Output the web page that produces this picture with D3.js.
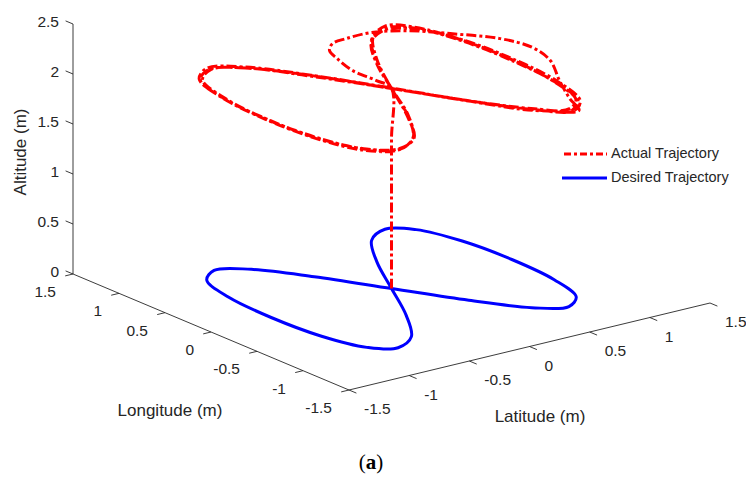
<!DOCTYPE html>
<html>
<head>
<meta charset="utf-8">
<script src="https://cdn.jsdelivr.net/npm/d3@7"></script>
<style>
  body { margin: 0; background: #fff; }
  svg text { font-family: "Liberation Sans", Arial, sans-serif; fill: #262626; }
</style>
</head>
<body>
<svg id="chart" width="746" height="478"></svg>
<script>
// tick values
var latTicks = [-1.5, -1, -0.5, 0, 0.5, 1, 1.5],
    lonTicks = [-1.5, -1, -0.5, 0, 0.5, 1, 1.5],
    altTicks = [0, 0.5, 1, 1.5, 2, 2.5];

// desired figure-eight, flown on the ground plane
var desiredLat = [0, 0.26, 0.5, 0.71, 0.87, 0.97, 1, 0.97, 0.87, 0.71, 0.5, 0.26, 0, -0.26, -0.5, -0.71, -0.87, -0.97, -1, -0.97, -0.87, -0.71, -0.5, -0.26],
    desiredLon = [0, 0.5, 0.87, 1, 0.87, 0.5, 0, -0.5, -0.87, -1, -0.87, -0.5, 0, 0.5, 0.87, 1, 0.87, 0.5, 0, -0.5, -0.87, -1, -0.87, -0.5],
    desiredAlt = [0, 0, 0, 0, 0, 0, 0, 0, 0, 0, 0, 0, 0, 0, 0, 0, 0, 0, 0, 0, 0, 0, 0, 0];

// actual trajectory: climb, first (wide) lap, then steady laps
var climbLat = [0, 0, 0, 0, 0],
    climbLon = [0, 0, 0, 0, 0],
    climbAlt = [0, 0.5, 1, 1.5, 2];

var transLat = [0.02, 0.02, 0.09, 0.15, 0.25, 0.39, 0.60, 0.82, 1.0, 1.2, 1.26, 1.19, 0.99, 0.83, 0.74],
    transLon = [0.19, 0.45, 0.71, 0.87, 0.97, 1.0, 1.0, 0.88, 0.67, 0.39, 0.12, -0.17, -0.53, -0.85, -1.07],
    transAlt = [2, 2, 2, 2, 2, 2, 2, 2, 2, 2, 2, 2, 2, 1.99, 1.98];

var lapALat = [0.50, 0.26, 0.01, -0.27, -0.53, -0.75, -0.91, -1.01, -1.04, -1.0, -0.89, -0.72, -0.51, -0.26, 0, 0.27, 0.52, 0.73, 0.88, 0.98, 1.01, 0.97, 0.86, 0.70],
    lapALon = [-0.9, -0.52, 0, 0.52, 0.9, 1.03, 0.9, 0.52, 0.01, -0.5, -0.88, -1.02, -0.9, -0.52, 0, 0.51, 0.88, 1.02, 0.9, 0.52, 0.02, -0.5, -0.88, -1.02],
    lapAAlt = [2.0, 2.0, 2.0, 2.01, 2.02, 2.02, 2.01, 2.0, 1.99, 1.98, 1.98, 1.99, 2.0, 2.0, 2.0, 2.01, 2.02, 2.02, 2.01, 2.0, 1.99, 1.98, 1.98, 1.99];

var lapBLat = [0.51, 0.27, 0, -0.26, -0.51, -0.73, -0.89, -0.99, -1.02, -0.98, -0.88, -0.71, -0.5, -0.25, 0, 0.25, 0.49, 0.70, 0.86, 0.96, 1.0, 0.98, 0.88, 0.72],
    lapBLon = [-0.9, -0.51, 0, 0.5, 0.88, 1.01, 0.89, 0.51, 0, -0.51, -0.89, -1.03, -0.89, -0.51, 0, 0.49, 0.86, 0.99, 0.87, 0.5, 0, -0.52, -0.9, -1.04],
    lapBAlt = [1.98, 1.99, 2.0, 2.0, 2.01, 2.01, 2.0, 1.99, 1.98, 1.98, 1.99, 2.0, 2.0, 2.0, 2.0, 1.99, 1.99, 2.0, 2.01, 2.02, 2.01, 1.99, 1.97, 1.97];

var lapCLat = [0.49, 0.25, 0, -0.27, -0.52, -0.74, -0.9, -1.0, -1.03, -0.99, -0.88, -0.71, -0.5, -0.26, 0, 0.26, 0.5, 0.71, 0.87, 0.97, 1.0, 0.97, 0.87, 0.71],
    lapCLon = [-0.88, -0.5, 0, 0.51, 0.89, 1.02, 0.9, 0.51, 0, -0.5, -0.88, -1.02, -0.9, -0.51, 0, 0.5, 0.87, 1.0, 0.88, 0.51, 0.01, -0.51, -0.89, -1.03],
    lapCAlt = [1.99, 2.0, 2.0, 2.01, 2.01, 2.01, 2.0, 1.99, 1.99, 1.98, 1.99, 2.0, 2.0, 2.0, 2.0, 2.0, 2.01, 2.01, 2.01, 2.0, 1.99, 1.98, 1.97, 1.97];

var svg = d3.select("#chart"),
    axisColor = "#262626",
    origin = [349, 390]; // lat -1.5, lon -1.5, alt 0

// oblique 3d projection, one scale per screen component
var latX = d3.scaleLinear().domain([-1.5, 1.5]).range([0, 361]),
    latY = d3.scaleLinear().domain([-1.5, 1.5]).range([0, -87]),
    lonX = d3.scaleLinear().domain([-1.5, 1.5]).range([0, -276]),
    lonY = d3.scaleLinear().domain([-1.5, 1.5]).range([0, -116]),
    altY = d3.scaleLinear().domain([0, 2.5]).range([0, -250]);

function proj(la, lo, al) {
  return [origin[0] + latX(la) + lonX(lo), origin[1] + latY(la) + lonY(lo) + altY(al)];
}

function zip(a, b, c) {
  return a.map((d, i) => [d, b[i], c[i]]);
}

var line = d3.line()
    .x(d => proj(d[0], d[1], d[2])[0])
    .y(d => proj(d[0], d[1], d[2])[1]);

// axes
var axes = svg.append("g").attr("stroke", axisColor).attr("stroke-width", 0.9).attr("fill", "none");

function seg(a, b) {
  axes.append("line").attr("x1", a[0]).attr("y1", a[1]).attr("x2", b[0]).attr("y2", b[1]);
}

seg(proj(-1.5, 1.5, 0), proj(-1.5, 1.5, 2.5));
seg(proj(-1.5, 1.5, 0), proj(-1.5, -1.5, 0));
seg(proj(-1.5, -1.5, 0), proj(1.5, -1.5, 0));

var fmt = v => String(v);

altTicks.forEach(function(v) {
  var p = proj(-1.5, 1.5, v);
  seg(p, [p[0] - 7.4, p[1] - 3.1]);
  svg.append("text").attr("x", p[0] - 14).attr("y", p[1] - 1)
    .attr("text-anchor", "end").attr("dominant-baseline", "middle")
    .style("font-size", "15.5px").text(fmt(v));
});

lonTicks.forEach(function(v) {
  var p = proj(-1.5, v, 0);
  seg(p, [p[0] - 7.8, p[1] + 1.9]);
  svg.append("text").attr("x", p[0] - 17).attr("y", p[1] + 19)
    .attr("text-anchor", "end").attr("dominant-baseline", "middle")
    .style("font-size", "15.5px").text(fmt(v));
});

latTicks.forEach(function(v) {
  var p = proj(v, -1.5, 0);
  seg(p, [p[0] + 7.4, p[1] + 3.1]);
  svg.append("text").attr("x", p[0] + 15).attr("y", p[1] + 20)
    .attr("text-anchor", "start").attr("dominant-baseline", "middle")
    .style("font-size", "15.5px").text(fmt(v));
});

svg.append("text").attr("transform", "translate(22,152) rotate(-90)")
  .attr("text-anchor", "middle").attr("dominant-baseline", "middle")
  .style("font-size", "17px").text("Altitude (m)");
svg.append("text").attr("x", 170).attr("y", 412)
  .attr("text-anchor", "middle").attr("dominant-baseline", "middle")
  .style("font-size", "17px").text("Longitude (m)");
svg.append("text").attr("x", 540).attr("y", 418)
  .attr("text-anchor", "middle").attr("dominant-baseline", "middle")
  .style("font-size", "17px").text("Latitude (m)");

// desired trajectory
svg.append("path")
  .attr("d", line.curve(d3.curveCatmullRomClosed)(zip(desiredLat, desiredLon, desiredAlt)))
  .attr("fill", "none").attr("stroke", "#0000ff").attr("stroke-width", 3);

// actual trajectory
var actual = [].concat(
  zip(climbLat, climbLon, climbAlt),
  zip(transLat, transLon, transAlt),
  zip(lapALat, lapALon, lapAAlt),
  zip(lapBLat, lapBLon, lapBAlt),
  zip(lapCLat, lapCLon, lapCAlt)
);

svg.append("path")
  .attr("d", line.curve(d3.curveCatmullRom.alpha(0.5))(actual))
  .attr("fill", "none").attr("stroke", "#ff0000").attr("stroke-width", 3)
  .attr("stroke-dasharray", "10,3,3,3");

// legend
var legend = svg.append("g");
legend.append("line").attr("x1", 564).attr("x2", 607).attr("y1", 154).attr("y2", 154)
  .attr("stroke", "#ff0000").attr("stroke-width", 3).attr("stroke-dasharray", "7,3,3,3");
legend.append("line").attr("x1", 562).attr("x2", 607).attr("y1", 178).attr("y2", 178)
  .attr("stroke", "#0000ff").attr("stroke-width", 3);
legend.append("text").attr("x", 611).attr("y", 154).attr("dominant-baseline", "middle")
  .style("font-size", "14.5px").text("Actual Trajectory");
legend.append("text").attr("x", 611).attr("y", 178).attr("dominant-baseline", "middle")
  .style("font-size", "14.5px").text("Desired Trajectory");

// panel label
var cap = svg.append("text").attr("x", 371).attr("y", 464)
  .attr("text-anchor", "middle").attr("dominant-baseline", "middle")
  .style("font-family", "'Liberation Serif', 'DejaVu Serif', serif").style("font-size", "21px")
  .style("fill", "#000");
cap.append("tspan").text("(");
cap.append("tspan").style("font-weight", "bold").text("a");
cap.append("tspan").text(")");
</script>
</body>
</html>
